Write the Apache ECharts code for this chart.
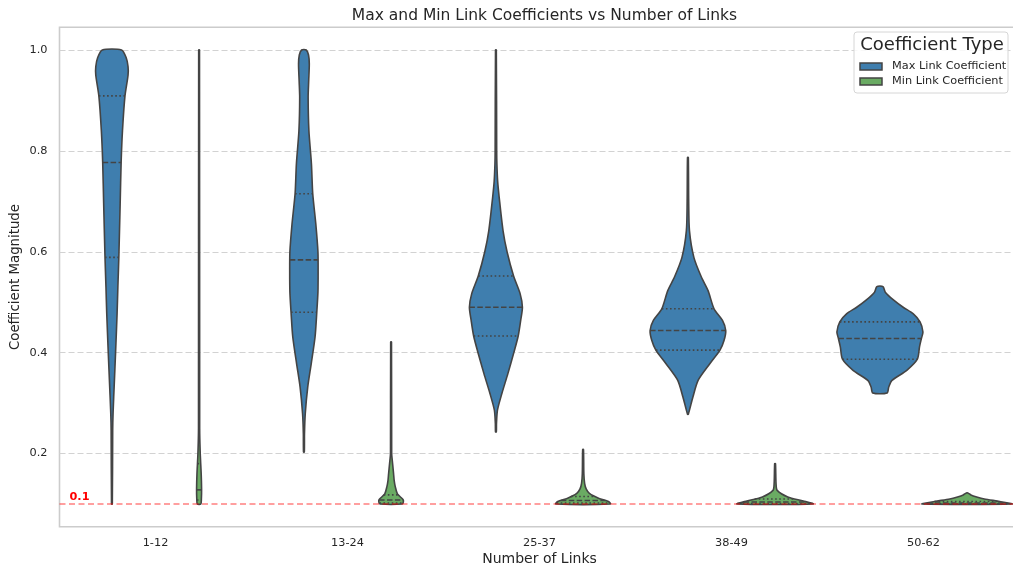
<!DOCTYPE html>
<html><head><meta charset="utf-8">
<script src="https://cdn.jsdelivr.net/npm/echarts@6/dist/echarts.min.js"></script>
<style>html,body{margin:0;padding:0;background:#fff}#c{width:1013px;height:575px}</style>
</head><body><div id="c"></div>
<script>
// ---------- data ----------
const categories = ['1-12', '13-24', '25-37', '38-49', '50-62'];
const yTicks = [0.2, 0.4, 0.6, 0.8, 1.0];
const threshold = 0.1;
const seriesNames = ['Max Link Coefficient', 'Min Link Coefficient'];

// Max Link Coefficient violins: value levels and density half-widths (fraction of category width)
const maxLevels = [
  [1.0, 0.985, 0.967, 0.95, 0.909, 0.84, 0.777, 0.696, 0.589, 0.53, 0.478, 0.40, 0.345, 0.28, 0.246, 0.1],
  [1.0, 0.99, 0.972, 0.94, 0.906, 0.84, 0.775, 0.715, 0.655, 0.6, 0.56, 0.52, 0.48, 0.431, 0.378, 0.332, 0.279, 0.24, 0.203],
  [1.0, 0.8, 0.775, 0.74, 0.708, 0.642, 0.6, 0.552, 0.517, 0.49, 0.464, 0.433, 0.401, 0.358, 0.319, 0.286, 0.26, 0.243],
  [0.787, 0.7, 0.642, 0.589, 0.55, 0.523, 0.487, 0.464, 0.444, 0.424, 0.405, 0.378, 0.345, 0.312, 0.278],
  [0.531, 0.52, 0.504, 0.49, 0.477, 0.461, 0.441, 0.428, 0.411, 0.387, 0.365, 0.345, 0.332, 0.32]
];
const maxHalfWidths = [
  [0.050, 0.074, 0.084, 0.084, 0.068, 0.055, 0.048, 0.043, 0.036, 0.031, 0.027, 0.019, 0.013, 0.006, 0.004, 0.002],
  [0.012, 0.024, 0.028, 0.025, 0.022, 0.026, 0.039, 0.046, 0.062, 0.073, 0.074, 0.073, 0.067, 0.058, 0.038, 0.020, 0.007, 0.003, 0.002],
  [0.002, 0.004, 0.005, 0.009, 0.017, 0.037, 0.058, 0.092, 0.126, 0.138, 0.129, 0.116, 0.094, 0.062, 0.031, 0.008, 0.003, 0.002],
  [0.002, 0.004, 0.008, 0.031, 0.070, 0.105, 0.136, 0.180, 0.197, 0.188, 0.167, 0.114, 0.053, 0.026, 0.002],
  [0.016, 0.028, 0.072, 0.121, 0.174, 0.209, 0.224, 0.216, 0.206, 0.195, 0.140, 0.063, 0.046, 0.037]
];
const maxQuartiles = [
  [0.589, 0.777, 0.909],
  [0.48, 0.584, 0.715],
  [0.433, 0.49, 0.552],
  [0.405, 0.444, 0.487],
  [0.387, 0.428, 0.461]
];

// Min Link Coefficient violins
const minLevels = [
  [1.0, 0.25, 0.2, 0.16, 0.13, 0.11, 0.1],
  [0.421, 0.2, 0.187, 0.16, 0.147, 0.134, 0.12, 0.109, 0.104, 0.1],
  [0.208, 0.16, 0.141, 0.13, 0.121, 0.111, 0.105, 0.1],
  [0.18, 0.14, 0.127, 0.114, 0.106, 0.1],
  [0.122, 0.118, 0.114, 0.11, 0.105, 0.1]
];
const minHalfWidths = [
  [0.002, 0.003, 0.006, 0.011, 0.013, 0.012, 0.009],
  [0.002, 0.003, 0.006, 0.013, 0.016, 0.022, 0.033, 0.062, 0.064, 0.058],
  [0.002, 0.004, 0.008, 0.016, 0.033, 0.083, 0.132, 0.142],
  [0.002, 0.005, 0.011, 0.066, 0.147, 0.198],
  [0.004, 0.02, 0.05, 0.09, 0.17, 0.234]
];
const minQuartiles = [
  [0.108, 0.128, 0.18],
  [0.102, 0.108, 0.118],
  [0.102, 0.107, 0.115],
  [0.101, 0.104, 0.11],
  [0.1005, 0.102, 0.105]
];

// ---------- styling ----------
const BLUE = '#3f7eae';
const GREEN = '#6aab63';
const EDGE = '#444444';
const TEXT = '#262626';
const DODGE = 0.227;

const allVals = maxLevels.flat().concat(minLevels.flat());
const dMin = Math.min(...allVals), dMax = Math.max(...allVals);
const pad = (dMax - dMin) * 0.05;

function interp(levels, widths, v) {
  for (let i = 0; i < levels.length - 1; i++) {
    const a = levels[i], b = levels[i + 1];
    if ((v <= a && v >= b) || (v >= a && v <= b)) {
      const t = a === b ? 0 : (v - a) / (b - a);
      return widths[i] + t * (widths[i + 1] - widths[i]);
    }
  }
  return widths[widths.length - 1];
}

function makeRender(levelsArr, widthsArr, quartArr, offset, color) {
  return function (params, api) {
    const ci = api.value(0);
    const lv = levelsArr[ci], hw = widthsArr[ci];
    const band = api.size([1, 0])[0];
    const cx = api.coord([ci, lv[0]])[0] + offset * band;
    const right = [], left = [];
    for (let i = 0; i < lv.length; i++) {
      const y = api.coord([ci, lv[i]])[1];
      const w = Math.max(hw[i] * band, 0.4);
      right.push([cx + w, y]);
      left.unshift([cx - w, y]);
    }
    const children = [{
      type: 'polygon',
      shape: { points: right.concat(left), smooth: 0.25 },
      style: { fill: color, stroke: EDGE, lineWidth: 1.6, lineJoin: 'round' }
    }];
    quartArr[ci].forEach(function (q, k) {
      const w = interp(lv, hw, q) * band;
      const y = api.coord([ci, q])[1];
      children.push({
        type: 'line',
        shape: { x1: cx - w, y1: y, x2: cx + w, y2: y },
        style: { stroke: EDGE, lineWidth: 1.6, lineDash: k === 1 ? [5.5, 2.4] : [1.6, 2.5] }
      });
    });
    return { type: 'group', children: children };
  };
}

const chart = echarts.init(document.getElementById('c'), null, { renderer: 'canvas' });
chart.setOption({
  backgroundColor: '#ffffff',
  animation: false,
  title: {
    text: 'Max and Min Link Coefficients vs Number of Links',
    left: 539.5, top: 3, textAlign: 'center',
    textStyle: { fontFamily: 'DejaVu Sans', fontSize: 15.5, fontWeight: 'normal', color: TEXT }
  },
  grid: {
    left: 59.5, width: 960, top: 27.3, height: 499.4,
    outerBoundsMode: 'none', containLabel: false,
    show: true, borderColor: '#cccccc', borderWidth: 1.6, backgroundColor: '#ffffff'
  },
  xAxis: {
    type: 'category', data: categories, boundaryGap: true,
    axisLine: { show: false }, axisTick: { show: false }, splitLine: { show: false },
    axisLabel: { color: TEXT, fontFamily: 'DejaVu Sans', fontSize: 11.3, margin: 11 },
    name: 'Number of Links', nameLocation: 'middle', nameGap: 26, nameMoveOverlap: false,
    nameTextStyle: { color: TEXT, fontFamily: 'DejaVu Sans', fontSize: 14 }
  },
  yAxis: {
    type: 'value', min: dMin - pad, max: dMax + pad,
    axisLine: { show: false },
    axisTick: { show: false, customValues: yTicks },
    axisLabel: { customValues: yTicks, formatter: v => v.toFixed(1), color: TEXT, fontFamily: 'DejaVu Sans', fontSize: 11.3, margin: 12 },
    splitLine: { show: true, lineStyle: { color: '#d2d2d2', width: 1.2, type: [6, 3] } },
    name: 'Coefficient Magnitude', nameLocation: 'middle', nameGap: 37, nameMoveOverlap: false,
    nameTextStyle: { color: TEXT, fontFamily: 'DejaVu Sans', fontSize: 13.3 }
  },
  series: [
    {
      name: seriesNames[0], type: 'custom',
      renderItem: makeRender(maxLevels, maxHalfWidths, maxQuartiles, -DODGE, BLUE),
      data: categories.map((c, i) => [i, Math.max(...maxLevels[i])]),
      encode: { x: 0, y: 1 }, z: 3
    },
    {
      name: seriesNames[1], type: 'custom',
      renderItem: makeRender(minLevels, minHalfWidths, minQuartiles, DODGE, GREEN),
      data: categories.map((c, i) => [i, Math.max(...minLevels[i])]),
      encode: { x: 0, y: 1 }, z: 3,
      markLine: {
        silent: true, symbol: 'none', z: 10,
        data: [{ yAxis: threshold }],
        lineStyle: { color: 'rgba(255,0,0,0.5)', width: 1.5, type: [6, 3.5] },
        label: { show: true, position: 'insideStartTop', formatter: String(threshold), color: '#ff0000', fontWeight: 'bold', fontFamily: 'DejaVu Sans', fontSize: 11.3, distance: [10, 1] }
      }
    }
  ],
  graphic: [
    { type: 'rect', shape: { x: 854, y: 32, width: 154, height: 61, r: 3 }, style: { fill: 'rgba(255,255,255,0.85)', stroke: '#d6d6d6', lineWidth: 1 }, z: 20 },
    { type: 'text', x: 932, y: 45, style: { text: 'Coefficient Type', fontFamily: 'DejaVu Sans', fontSize: 18, fill: TEXT, textAlign: 'center', textVerticalAlign: 'middle' }, z: 21 },
    { type: 'rect', shape: { x: 860, y: 63, width: 22, height: 7 }, style: { fill: BLUE, stroke: EDGE, lineWidth: 1.5 }, z: 21 },
    { type: 'text', x: 892, y: 66.5, style: { text: seriesNames[0], fontFamily: 'DejaVu Sans', fontSize: 11.3, fill: TEXT, textVerticalAlign: 'middle' }, z: 21 },
    { type: 'rect', shape: { x: 860, y: 78, width: 22, height: 7 }, style: { fill: GREEN, stroke: EDGE, lineWidth: 1.5 }, z: 21 },
    { type: 'text', x: 892, y: 81.5, style: { text: seriesNames[1], fontFamily: 'DejaVu Sans', fontSize: 11.3, fill: TEXT, textVerticalAlign: 'middle' }, z: 21 }
  ]
});
</script>
</body></html>
